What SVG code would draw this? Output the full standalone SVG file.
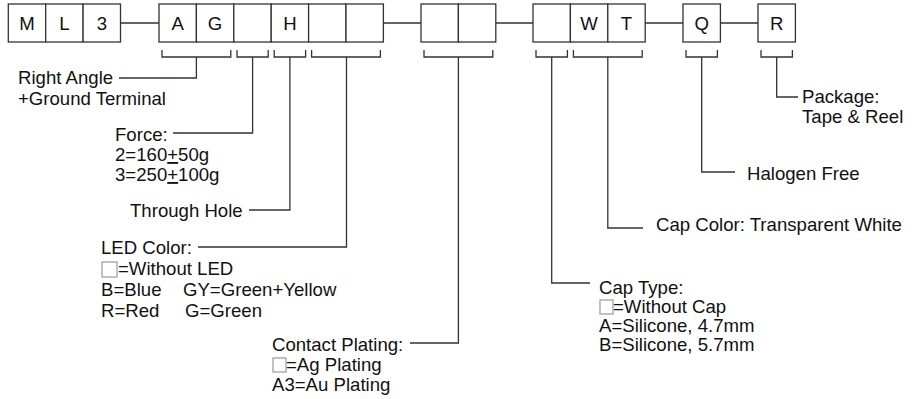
<svg xmlns="http://www.w3.org/2000/svg" width="919" height="399" viewBox="0 0 919 399">
<style>
.cell{fill:#fff;stroke:#333;stroke-width:1.3}
.ct{font-family:"Liberation Sans",Arial,sans-serif;font-size:18.6px;fill:#111;text-anchor:middle}
.t{font-family:"Liberation Sans",Arial,sans-serif;font-size:18.6px;fill:#111}
.ln{fill:none;stroke:#333;stroke-width:1.3}
.sq{fill:#fff;stroke:#999;stroke-width:1.2}
</style>
<rect width="919" height="399" fill="#fff"/>
<g id="connectors">
<path class="ln" d="M120.5 23H159M383.4 23H421M495.8 23H533M645.2 23H683M720.4 23H758"/>
<path class="ln" d="M162 50V57H230.8V50M237 50V57H268.2V50M274.2 50V57H305.6V50M311.6 50V57H380.4V50M424 50V57H492.8V50M536 50V57H567.4V50M573.4 50V57H642.2V50M686 50V57H717.4V50M761 50V57H792.4V50"/>
<path class="ln" d="M196.4 57V78H119"/>
<path class="ln" d="M252.6 57V133H173"/>
<path class="ln" d="M289.9 57V210H249"/>
<path class="ln" d="M346.5 57V247H198"/>
<path class="ln" d="M458.4 57V343H410"/>
<path class="ln" d="M551.7 57V283H590"/>
<path class="ln" d="M607.8 57V228H643"/>
<path class="ln" d="M701.7 57V172H735"/>
<path class="ln" d="M776.7 57V97H798"/>
</g>
<g id="g1">
<rect class="cell" x="8.3" y="4" width="37.4" height="38"/>
<rect class="cell" x="45.7" y="4" width="37.4" height="38"/>
<rect class="cell" x="83.1" y="4" width="37.4" height="38"/>
<text class="ct" x="27" y="29.7">M</text>
<text class="ct" x="64.4" y="29.7">L</text>
<text class="ct" x="101.8" y="29.7">3</text>
</g>
<g id="g2">
<rect class="cell" x="159" y="4" width="37.4" height="38"/>
<rect class="cell" x="196.4" y="4" width="37.4" height="38"/>
<rect class="cell" x="233.8" y="4" width="37.4" height="38"/>
<rect class="cell" x="271.2" y="4" width="37.4" height="38"/>
<rect class="cell" x="308.6" y="4" width="37.4" height="38"/>
<rect class="cell" x="346" y="4" width="37.4" height="38"/>
<text class="ct" x="177.7" y="29.7">A</text>
<text class="ct" x="215.1" y="29.7">G</text>
<text class="ct" x="289.9" y="29.7">H</text>
</g>
<g id="g3">
<rect class="cell" x="421" y="4" width="37.4" height="38"/>
<rect class="cell" x="458.4" y="4" width="37.4" height="38"/>
</g>
<g id="g4">
<rect class="cell" x="533" y="4" width="37.4" height="38"/>
<rect class="cell" x="570.4" y="4" width="37.4" height="38"/>
<rect class="cell" x="607.8" y="4" width="37.4" height="38"/>
<text class="ct" x="589.1" y="29.7">W</text>
<text class="ct" x="626.5" y="29.7">T</text>
</g>
<g id="g5">
<rect class="cell" x="683" y="4" width="37.4" height="38"/>
<text class="ct" x="701.7" y="29.7">Q</text>
</g>
<g id="g6">
<rect class="cell" x="758" y="4" width="37.4" height="38"/>
<text class="ct" x="776.7" y="29.7">R</text>
</g>
<g id="lbl-angle">
<text class="t" x="18" y="84">Right Angle</text>
<text class="t" x="18" y="105">+Ground Terminal</text>
</g>
<g id="lbl-force">
<text class="t" x="115" y="141">Force:</text>
<text class="t" x="115" y="161">2=160<tspan text-decoration="underline">+</tspan>50g</text>
<text class="t" x="115" y="181">3=250<tspan text-decoration="underline">+</tspan>100g</text>
</g>
<g id="lbl-hole">
<text class="t" x="130" y="217">Through Hole</text>
</g>
<g id="lbl-led">
<text class="t" x="101" y="254">LED Color:</text>
<rect class="sq" x="102" y="262" width="15" height="15"/>
<text class="t" x="118" y="275">=Without LED</text>
<text class="t" x="101" y="296">B=Blue</text>
<text class="t" x="183" y="296">GY=Green+Yellow</text>
<text class="t" x="101" y="317">R=Red</text>
<text class="t" x="185" y="317">G=Green</text>
</g>
<g id="lbl-plating">
<text class="t" x="272" y="351">Contact Plating:</text>
<rect class="sq" x="273" y="358" width="13" height="14"/>
<text class="t" x="286" y="371">=Ag Plating</text>
<text class="t" x="272" y="391">A3=Au Plating</text>
</g>
<g id="lbl-captype">
<text class="t" x="599" y="294">Cap Type:</text>
<rect class="sq" x="600" y="300" width="13" height="14"/>
<text class="t" x="613" y="313">=Without Cap</text>
<text class="t" x="599" y="332">A=Silicone, 4.7mm</text>
<text class="t" x="599" y="351">B=Silicone, 5.7mm</text>
</g>
<g id="lbl-capcolor">
<text class="t" x="656" y="231">Cap Color: Transparent White</text>
</g>
<g id="lbl-halogen">
<text class="t" x="747" y="180">Halogen Free</text>
</g>
<g id="lbl-package">
<text class="t" x="802" y="103">Package:</text>
<text class="t" x="802" y="123">Tape &amp; Reel</text>
</g>
</svg>
